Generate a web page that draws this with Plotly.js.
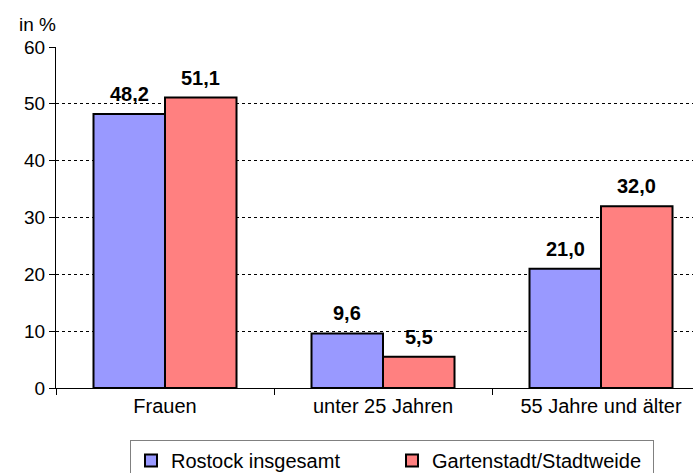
<!DOCTYPE html>
<html><head><meta charset="utf-8">
<script src="https://cdn.plot.ly/plotly-3.0.1.min.js"></script>
<style>body{margin:0;background:#fff}#c{width:693px;height:473px}</style>
</head><body><div id="c"></div>
<script>
const categories = ["Frauen", "unter 25 Jahren", "55 Jahre und älter"];
const rostock = [48.2, 9.6, 21.0];
const garten = [51.1, 5.5, 32.0];
const seriesNames = ["Rostock insgesamt", "Gartenstadt/Stadtweide"];
const yTicks = [0, 10, 20, 30, 40, 50, 60];

const fmt = v => v.toFixed(1).replace('.', ',');
const F = "Liberation Sans, Arial, sans-serif";
const BARGAP = 0.344;
const half = (1 - BARGAP) / 4;

const traces = [
  {type: 'bar', x: [0, 1, 2], y: rostock, name: seriesNames[0],
   marker: {color: '#9999ff', line: {color: '#000', width: 2}}},
  {type: 'bar', x: [0, 1, 2], y: garten, name: seriesNames[1],
   marker: {color: '#ff8080', line: {color: '#000', width: 2}}}
];

const annotations = [];
[rostock, garten].forEach((arr, s) => {
  arr.forEach((v, i) => {
    annotations.push({x: i + (s === 0 ? -half : half), y: v, xref: 'x', yref: 'y',
      text: '<b>' + fmt(v) + '</b>', showarrow: false, yanchor: 'bottom', yshift: 7,
      font: {family: F, size: 20, color: '#000'}});
  });
});
annotations.push({text: 'in %', xref: 'paper', yref: 'paper', x: -0.062, y: 1.03,
  xanchor: 'left', yanchor: 'bottom', showarrow: false,
  font: {family: F, size: 19, color: '#000'}});

const layout = {
  width: 693, height: 473,
  margin: {l: 56, r: 0, t: 47, b: 85},
  paper_bgcolor: '#fff', plot_bgcolor: '#fff',
  font: {family: F, size: 19, color: '#000'},
  barmode: 'group', bargap: BARGAP, bargroupgap: 0,
  showlegend: true,
  legend: {orientation: 'h', xref: 'container', yref: 'container', x: 130 / 693, y: 33 / 473,
           xanchor: 'left', yanchor: 'top',
           bordercolor: '#808080', borderwidth: 1, font: {family: F, size: 20},
           entrywidth: 216, entrywidthmode: 'pixels', itemwidth: 30},
  xaxis: {range: [-0.5, 2.422], tickvals: [0, 1, 2], ticktext: categories,
          showline: true, linecolor: '#000', linewidth: 1, automargin: false,
          ticks: '', showgrid: false, tickfont: {family: F, size: 20},
          minor: {tickvals: [-0.5, 0.5, 1.5, 2.5], ticks: 'outside', ticklen: 6, tickcolor: '#000', showgrid: false}},
  yaxis: {range: [0, 60], tickvals: yTicks, ticktext: yTicks.map(String), automargin: false,
          showline: true, linecolor: '#000', linewidth: 1, ticks: 'outside', ticklen: 6,
          tickcolor: '#000', showgrid: true, gridcolor: '#000', griddash: 'dot', gridwidth: 1,
          zeroline: false, tickfont: {family: F, size: 19}},
  annotations: annotations
};
Plotly.newPlot('c', traces, layout, {displayModeBar: false, staticPlot: true});
</script></body></html>
